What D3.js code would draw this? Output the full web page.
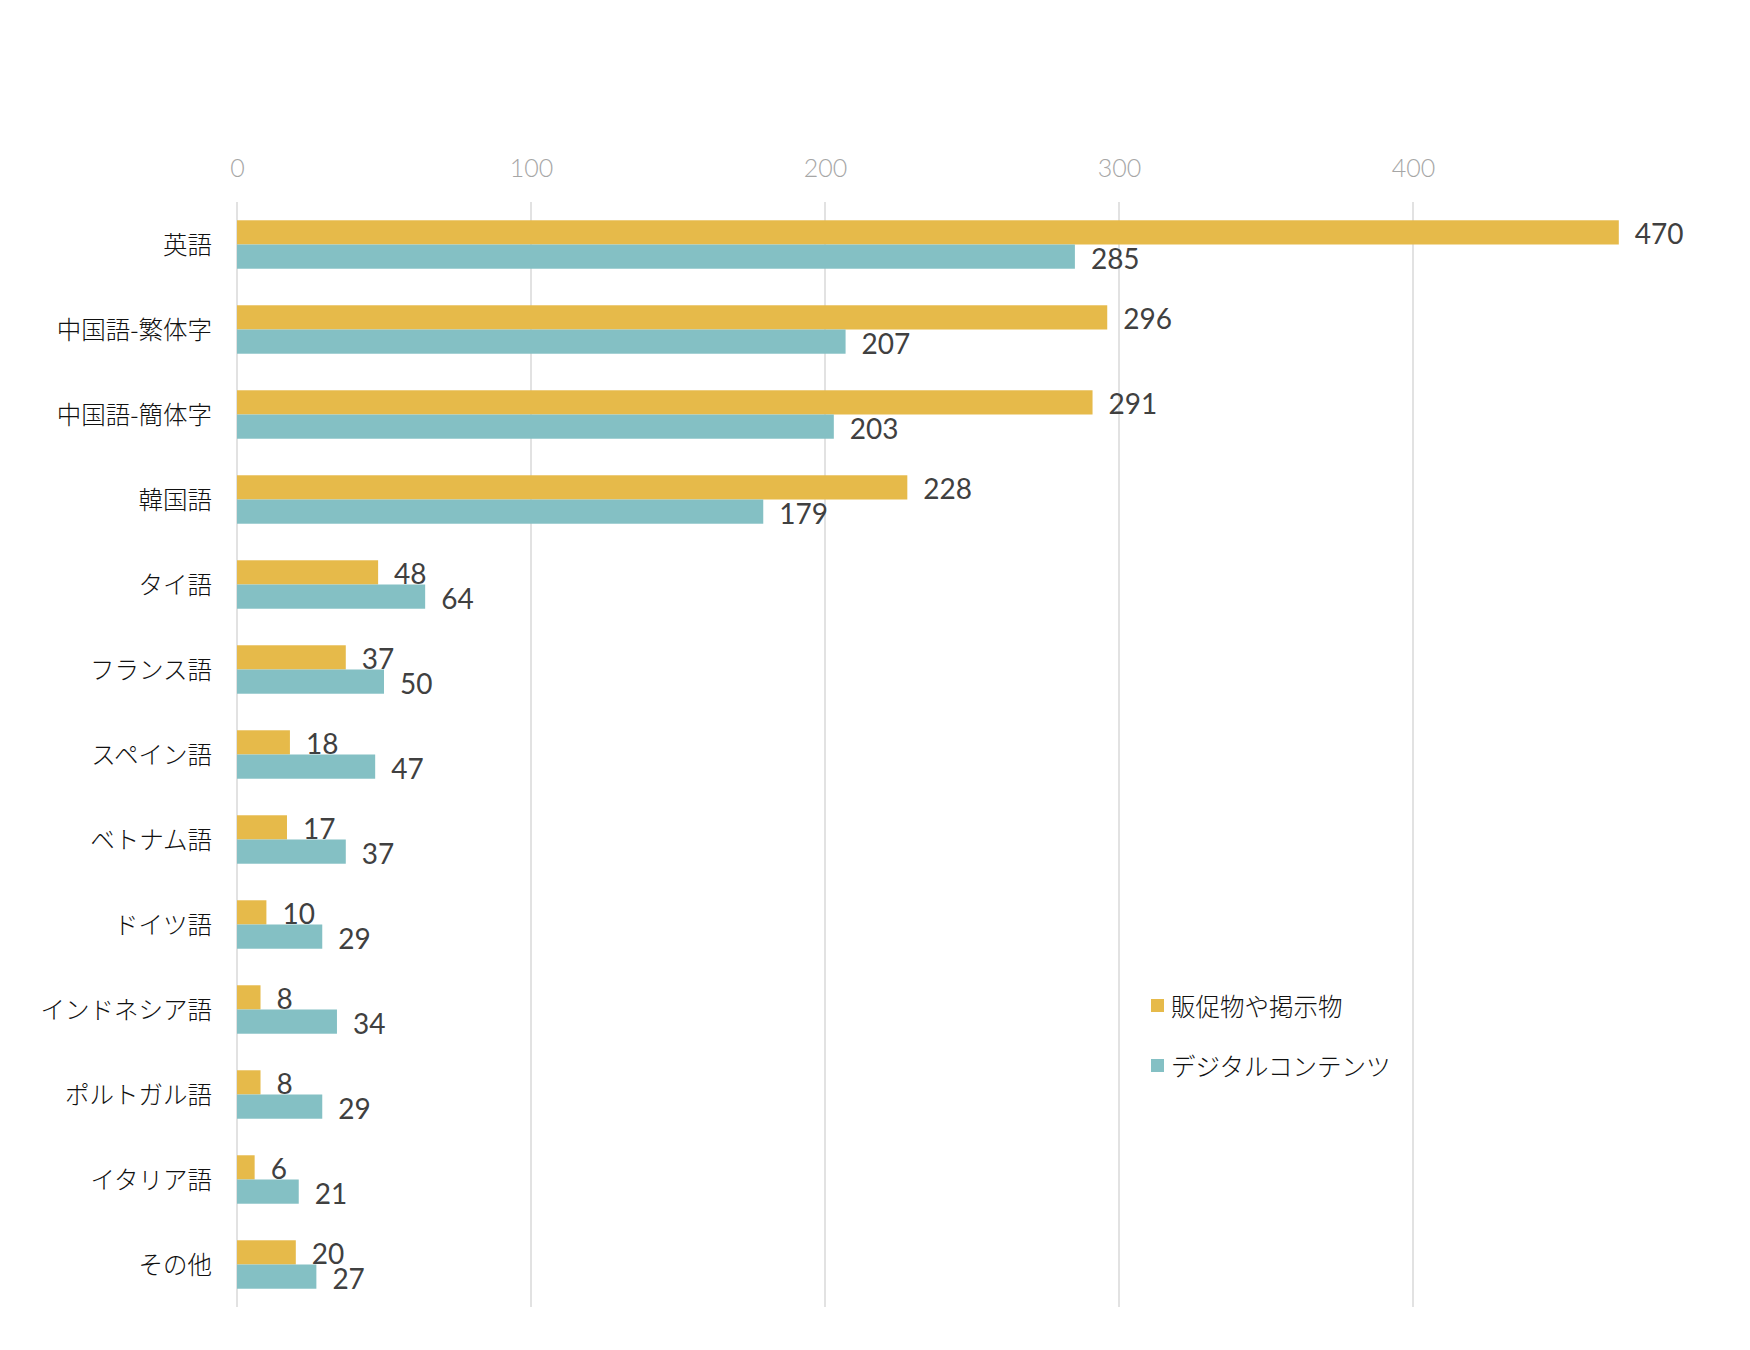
<!DOCTYPE html>
<html>
<head>
<meta charset="utf-8">
<script src="https://cdn.jsdelivr.net/npm/d3@7/dist/d3.min.js"></script>
<style>
  html, body { margin: 0; padding: 0; background: #fff; }
  svg { display: block; }
</style>
</head>
<body>
<svg id="chart" width="1750" height="1350"></svg>
<script>
const categories = ["英語", "中国語-繁体字", "中国語-簡体字", "韓国語", "タイ語", "フランス語", "スペイン語", "ベトナム語", "ドイツ語", "インドネシア語", "ポルトガル語", "イタリア語", "その他"];
const seriesNames = ["販促物や掲示物", "デジタルコンテンツ"];
const promoValues = [470, 296, 291, 228, 48, 37, 18, 17, 10, 8, 8, 6, 20];
const digitalValues = [285, 207, 203, 179, 64, 50, 47, 37, 29, 34, 29, 21, 27];
const tickValues = [0, 100, 200, 300, 400];
const colors = ["#E6BA4A", "#84C0C4"];

const svg = d3.select("#chart");
svg.append("rect").attr("width", 1750).attr("height", 1350).attr("fill", "#fff");

const x = d3.scaleLinear().domain([0, 400]).range([237, 1413]);
const y = d3.scaleBand().domain(categories).range([202, 1307]).paddingInner(0.43).paddingOuter(0.215);
const sub = d3.scaleBand().domain(seriesNames).range([0, y.bandwidth()]);

// gridlines
svg.append("g").selectAll("line").data(tickValues).join("line")
  .attr("x1", d => x(d)).attr("x2", d => x(d))
  .attr("y1", 202).attr("y2", 1307)
  .attr("stroke", "#d9d9d9").attr("stroke-width", 1.5);

// top axis labels
const axis = d3.axisTop(x).tickValues(tickValues).tickSize(0).tickPadding(0);
const ag = svg.append("g").attr("transform", "translate(0,177)").call(axis);
ag.select(".domain").remove();
ag.selectAll("text")
  .attr("dy", 0)
  .attr("font-family", "Lato, sans-serif")
  .attr("font-weight", 300)
  .attr("font-size", 25)
  .attr("fill", "#a6a6a6");

// category labels
const yAxis = d3.axisLeft(y).tickSize(0).tickPadding(25);
const yg = svg.append("g").attr("transform", `translate(${x(0)},2)`).call(yAxis);
yg.select(".domain").remove();
yg.selectAll("text")
  .attr("font-family", "'Noto Sans CJK JP', sans-serif")
  .attr("font-weight", 300)
  .attr("font-size", 24.5)
  .attr("fill", "#111");

const series = [promoValues, digitalValues];
series.forEach((vals, si) => {
  const g = svg.append("g");
  g.selectAll("rect").data(vals).join("rect")
    .attr("x", x(0))
    .attr("y", (d, i) => y(categories[i]) + sub(seriesNames[si]))
    .attr("width", d => x(d) - x(0))
    .attr("height", sub.bandwidth())
    .attr("fill", colors[si]);
  g.selectAll("text").data(vals).join("text")
    .attr("x", d => x(d) + 16)
    .attr("y", (d, i) => y(categories[i]) + sub(seriesNames[si]) + sub.bandwidth() / 2 + 1)
    .attr("dominant-baseline", "central")
    .attr("font-family", "Lato, sans-serif")
    .attr("font-size", 28)
    .attr("fill", "#404040")
    .text(d => d);
});

// legend
const legend = svg.append("g");
seriesNames.forEach((name, i) => {
  const cy = 1005 + i * 60;
  legend.append("rect").attr("x", 1151).attr("y", cy - 6).attr("width", 13).attr("height", 13).attr("fill", colors[i]);
  legend.append("text").attr("x", 1171).attr("y", cy)
    .attr("dominant-baseline", "central")
    .attr("font-family", "'Noto Sans CJK JP', sans-serif")
    .attr("font-weight", 300)
    .attr("font-size", 24.5)
    .attr("fill", "#111")
    .text(name);
});
</script>
</body>
</html>
